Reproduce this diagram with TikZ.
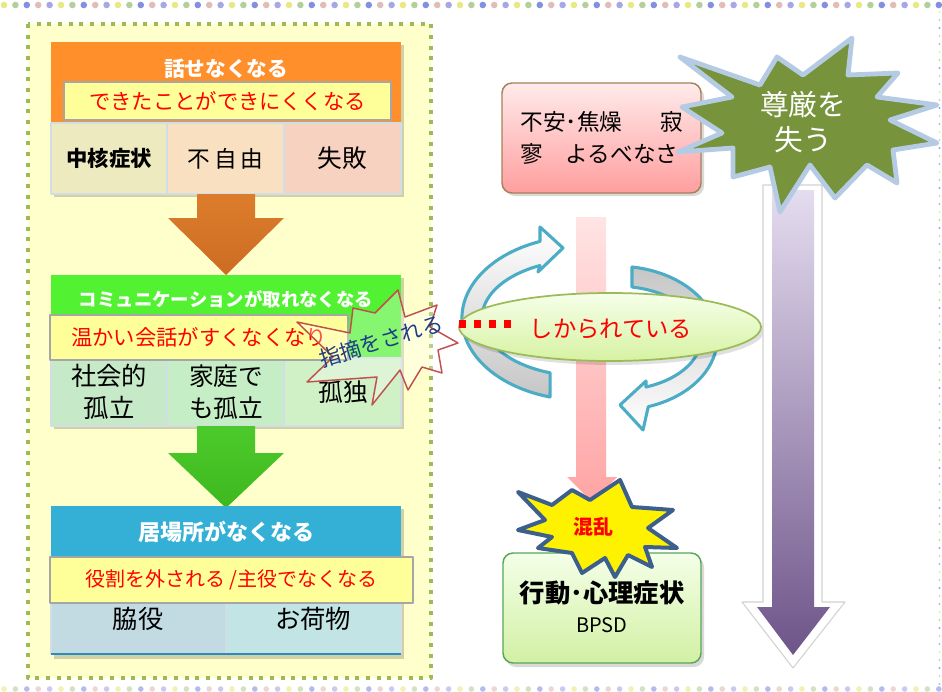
\documentclass[tikz,border=0pt]{standalone}
\usepackage{fontspec}
\setmainfont{Noto Sans CJK JP}
\usetikzlibrary{shapes.geometric,fit}
\definecolor{panelfill}{HTML}{FFFFCC}
\definecolor{panelline}{HTML}{9BBB59}
\definecolor{orghdr}{HTML}{FF8F2B}
\definecolor{oc1}{HTML}{EEEAC0}
\definecolor{oc2}{HTML}{F8E0C0}
\definecolor{oc3}{HTML}{F8D2C0}
\definecolor{cellline}{HTML}{D2DEE6}
\definecolor{ybfill}{HTML}{FFFF99}
\definecolor{ybline}{HTML}{A6A6A6}
\definecolor{grnhdr}{HTML}{52F232}
\definecolor{gc1}{HTML}{C6EAC8}
\definecolor{gc2}{HTML}{C6EEC6}
\definecolor{gc3}{HTML}{D0F0C6}
\definecolor{bluhdr}{HTML}{34B0D6}
\definecolor{bc1}{HTML}{C2DAE2}
\definecolor{bc2}{HTML}{C2E4E4}
\definecolor{bluline}{HTML}{2A8CBE}
\definecolor{arcblue}{HTML}{4BACC6}
\definecolor{txtred}{HTML}{FF0000}
\definecolor{navy}{HTML}{1F3C88}
\definecolor{starred}{HTML}{C0504D}
\definecolor{dignity}{HTML}{77933C}
\definecolor{dignityline}{HTML}{B5CBE3}
\definecolor{chaosline}{HTML}{3C5F8C}
\definecolor{orgA}{HTML}{DC7D2C}
\definecolor{orgB}{HTML}{CD6C22}
\definecolor{grnA}{HTML}{4DCA2B}
\definecolor{grnB}{HTML}{3DB81F}
\definecolor{purA}{HTML}{E4DCEF}
\definecolor{purM}{HTML}{C2B4D6}
\definecolor{purB}{HTML}{6E5489}
\definecolor{ellA}{HTML}{F6FFEA}
\definecolor{ellB}{HTML}{D6F2A2}
\definecolor{bpA}{HTML}{F4FFE8}
\definecolor{bpB}{HTML}{D2F0A4}
\definecolor{pkA}{HTML}{FFE4E4}
\definecolor{pkB}{HTML}{FFA4A4}
\definecolor{dot0}{HTML}{E2E25A}
\definecolor{dot1}{HTML}{9CC07A}
\definecolor{dot2}{HTML}{5A6CD8}
\definecolor{dot3}{HTML}{D8A8A0}
\definecolor{dot4}{HTML}{8A8AE0}
\tikzset{
  pbox/.style={inner sep=0pt, outer sep=0pt},
  cell/.style={pbox, draw=cellline, line width=1.2pt},
  ybox/.style={pbox, fill=ybfill, draw=ybline, line width=1.5pt},
  wtitle/.style={inner sep=0pt, text=white, font=\bfseries\fontsize{15.5}{18}\selectfont},
  redtxt/.style={inner sep=0pt, text=txtred, font=\fontsize{16}{19}\selectfont},
  celltxt/.style={inner sep=0pt, text=black, align=center, font=\fontsize{18.5}{24}\selectfont},
  boxshadow/.style={fill=black, opacity=0.18},
  arcarrow/.style={draw=arcblue, line width=2.3pt, line join=round},
}
\begin{document}
\begin{tikzpicture}[x=0.75pt,y=-0.75pt,line join=round]
\useasboundingbox (0,0) rectangle (942,692);
\fill[white] (0,0) rectangle (942,692);

% decorative dotted border
\foreach \i in {0,...,82}{\pgfmathtruncatemacro\k{mod(\i,5)}
  \fill[color=dot\k,opacity=.75] ({4+11.4*\i},5) circle[radius=3.3];
  \fill[color=dot\k,opacity=.45] ({4+11.4*\i},689) circle[radius=2.8];}
\foreach \j in {0,...,84}{\pgfmathtruncatemacro\k{mod(\j,5)}
  \fill[color=dot\k,opacity=.6] (939.5,{12+8*\j}) circle[radius=1.1];}

% left panel
\node[fit={(28,24)(431,678)}, pbox, fill=panelfill] (panel) {};
\draw[panelline, line width=3pt, dash pattern=on 3pt off 5pt] (panel.north west) rectangle (panel.south east);

% ---------- orange group
\fill[boxshadow] (54,45) rectangle (404,197);
\node[fit={(51,42)(401,123)}, pbox, fill=orghdr] (orgH) {};
\node[wtitle] (orgT) at (226,69) {話せなくなる};
\node[fit={(64,82)(391,120)}, ybox] (orgY) {};
\node[redtxt] (orgYT) at (orgY.center) {できたことができにくくなる};
\node[fit={(51,123)(167,194)}, cell, fill=oc1] (oc1) {};
\node[fit={(167,123)(284,194)}, cell, fill=oc2] (oc2) {};
\node[fit={(284,123)(401,194)}, cell, fill=oc3] (oc3) {};
\node[celltxt, font=\bfseries\fontsize{16}{20}\selectfont] (oc1T) at (oc1.center) {中核症状};
\node[celltxt, font=\fontsize{17}{20}\selectfont] (oc2T) at (oc2.center) {不\hspace{3pt}自\hspace{3pt}由};
\node[celltxt] (oc3T) at (oc3.center) {失敗};

% orange block arrow
\shade[top color=orgA, bottom color=orgB]
  (197,194) -- (255,194) -- (255,218) -- (284,218) -- (226,275) -- (168,218) -- (197,218) -- cycle;

% ---------- green group
\fill[boxshadow] (54,278) rectangle (404,429);
\node[fit={(51,275)(401,358)}, pbox, fill=grnhdr] (grnH) {};
\node[wtitle, font=\bfseries\fontsize{13.8}{16}\selectfont] (grnT) at (226,299) {コミュニケーションが取れなくなる};
\node[fit={(51,358)(167,426)}, cell, fill=gc1] (gc1) {};
\node[fit={(167,358)(284,426)}, cell, fill=gc2] (gc2) {};
\node[fit={(284,358)(401,426)}, cell, fill=gc3] (gc3) {};
\node[fit={(50,315)(348,360)}, ybox] (grnY) {};
\node[redtxt] (grnYT) at (199,337) {温かい会話がすくなくなり};
\node[celltxt, font=\fontsize{19}{24}\selectfont] (gc1T) at (109,392) {社会的\\孤立};
\node[celltxt] (gc2T) at (226,392) {家庭で\\も孤立};
\node[celltxt] (gc3T) at (343,392) {孤独};

% green block arrow
\shade[top color=grnA, bottom color=grnB]
  (197,426) -- (255,426) -- (255,453) -- (284,453) -- (226,508) -- (168,453) -- (197,453) -- cycle;

% ---------- blue group
\fill[boxshadow] (54,509) rectangle (404,659);
\node[fit={(51,506)(401,603)}, pbox, fill=bluhdr] (bluH) {};
\node[wtitle, font=\bfseries\fontsize{16.5}{19}\selectfont] (bluT) at (226,532) {居場所がなくなる};
\node[fit={(51,603)(226,654)}, cell, fill=bc1] (bc1) {};
\node[fit={(226,603)(401,654)}, cell, fill=bc2] (bc2) {};
\draw[bluline, line width=1.6pt] (bc1.south west) -- (bc2.south east);
\node[fit={(50,557)(413,603)}, ybox] (bluY) {};
\node[redtxt, font=\fontsize{15}{18}\selectfont] (bluYT) at (bluY.center) {役割を外される /主役でなくなる};
\node[celltxt, font=\fontsize{19}{24}\selectfont] (bc1T) at (138,619) {脇役};
\node[celltxt, font=\fontsize{19}{24}\selectfont] (bc2T) at (313,619) {お荷物};

% ---------- star: 指摘をされる
\coordinate (shitekiC) at (381,341);
\filldraw[draw=starred, line width=1.1pt, fill=white, fill opacity=0.3]
  (398,290) -- (405,317) -- (437,305) -- (430,327) -- (458,343) -- (438,350) -- (442,373)
  -- (422,367) -- (408,390) -- (400,370) -- (372,405) -- (377,377) -- (307,382) -- (333,357)
  -- (297,322) -- (350,333) -- (353,308) -- (375,313) -- cycle;
\node[inner sep=0pt, text=navy, rotate=17, font=\fontsize{16}{18}\selectfont] (shitekiT) at (shitekiC) {指摘をされる};

% ---------- pink vertical arrow
\shade[top color=pkA, bottom color=pkB]
  (576,217) -- (606,217) -- (606,477) -- (617,477) -- (592,502) -- (567,477) -- (576,477) -- cycle;

% ---------- cycle arrows
\shadedraw[arcarrow, top color=white, bottom color=gray!45]
  (550,397) arc[start angle=105.8, end angle=249.2, x radius=121, y radius=82]
  -- (540,227) -- (563,248) -- (538,272) -- (540,265.5)
  arc[start angle=244.8, end angle=109, x radius=101, y radius=58] -- cycle;
\shadedraw[arcarrow, top color=gray!45, bottom color=white]
  (632,267) arc[start angle=-81.5, end angle=71.9, x radius=100, y radius=72]
  -- (643,430) -- (620,405) -- (646,381) -- (646,387)
  arc[start angle=69.8, end angle=-79.7, x radius=84, y radius=52] -- cycle;

% ---------- ellipse しかられている
\fill[black, opacity=0.12] (613,331) ellipse[x radius=151, y radius=34];
\node[ellipse, pbox, minimum width=302*0.75pt, minimum height=68*0.75pt,
      top color=ellA, bottom color=ellB, draw=panelline, line width=1.3pt] (scold) at (610,327) {};
\node[redtxt, font=\fontsize{17.5}{20}\selectfont] (scoldT) at (611,329) {しかられている};
\coordinate (dotS) at (459,324);
\coordinate (dotE) at (514,324);
\draw[txtred, line width=5.3pt, dash pattern=on 5.3pt off 6pt] (dotS) -- (dotE);

% ---------- pink box
\fill[black, opacity=0.15, rounded corners=7.5pt] (505,87) rectangle (704,196);
\node[fit={(502,83)(701,193)}, pbox, rounded corners=7.5pt, top color=red!8, bottom color=red!38,
      draw=brown!60!gray, line width=1.1pt] (anx) {};
\node[inner sep=0pt, align=left, font=\fontsize{17}{24}\selectfont] (anxT) at (602,138) {不安･焦燥\hspace{1.7em}寂\\寥　よるべなさ};

% ---------- purple arrow
\filldraw[fill=white, draw=gray!35, line width=0.8pt]
  (763,185) -- (822,185) -- (822,602) -- (845,602) -- (793,668) -- (742,602) -- (763,602) -- cycle;
\shade[top color=purA, middle color=purM, bottom color=purB]
  (772,190) -- (814,190) -- (814,607) -- (830,607) -- (793,655) -- (757,607) -- (772,607) -- cycle;

% ---------- star 尊厳を失う
\coordinate (dignityC) at (803,122);
\filldraw[fill=dignity, draw=dignityline, line width=3.6pt]
  (680,57) -- (760,85) -- (777,57) -- (803,75) -- (852,38) -- (848,75) -- (898,73)
  -- (877,97) -- (937,105) -- (890,120) -- (937,143) -- (893,150) -- (897,183)
  -- (867,165) -- (835,198) -- (810,165) -- (780,212) -- (770,167) -- (733,177)
  -- (733,148) -- (678,152) -- (722,133) -- (682,107) -- (732,97) -- cycle;
\node[inner sep=0pt, text=white, align=center, font=\fontsize{21.5}{26}\selectfont] (dignityT) at (dignityC) {尊厳を\\失う};

% ---------- BPSD box
\fill[black, opacity=0.15, rounded corners=7.5pt] (506,557) rectangle (704,667);
\node[fit={(503,553)(701,663)}, pbox, rounded corners=7.5pt, top color=bpA, bottom color=bpB,
      draw=gray!70!green, line width=1.1pt] (bpsd) {};
\node[inner sep=0pt, font=\bfseries\fontsize{19}{22}\selectfont] (bpsdT) at (602,593) {行動･心理症状};
\node[inner sep=0pt, font=\fontsize{15}{18}\selectfont] (bpsdE) at (602,625) {BPSD};

% ---------- star 混乱
\coordinate (chaosC) at (593,527);
\filldraw[fill=yellow, draw=chaosline, line width=3pt]
  (518,492) -- (552,505) -- (572,490) -- (590,500) -- (620,480) -- (632,507) -- (673,510)
  -- (648,528) -- (677,548) -- (645,547) -- (652,567) -- (628,555) -- (615,577) -- (605,558)
  -- (582,573) -- (572,553) -- (538,548) -- (552,537) -- (518,530) -- (545,520) -- cycle;
\node[inner sep=0pt, text=txtred, font=\bfseries\fontsize{15}{18}\selectfont] (chaosT) at (chaosC) {混乱};
\end{tikzpicture}
\end{document}
